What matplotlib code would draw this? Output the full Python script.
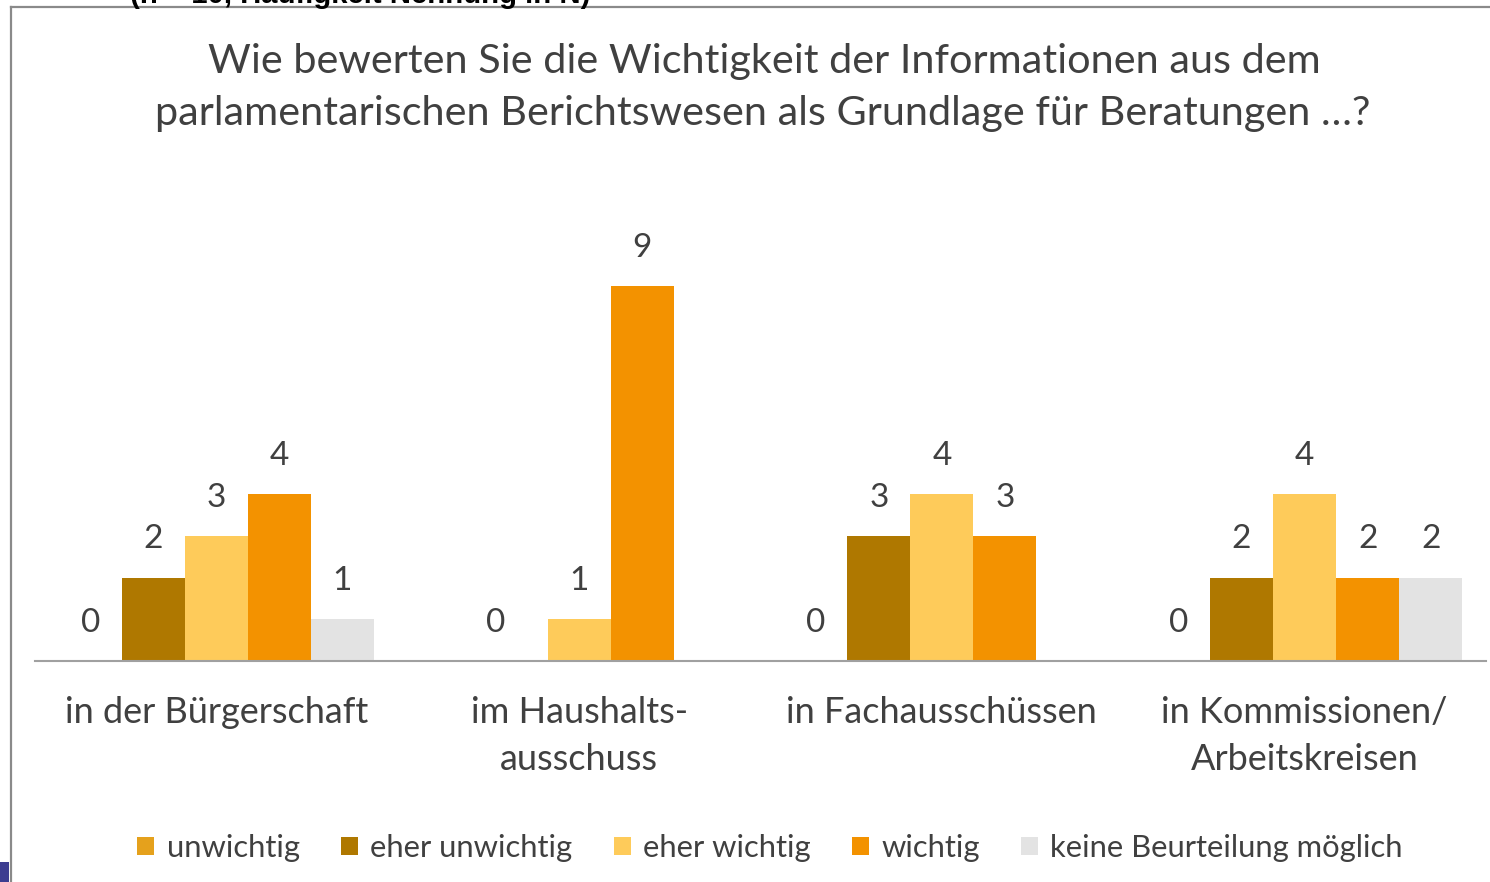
import matplotlib
matplotlib.use("Agg")
import matplotlib.pyplot as plt
import numpy as np
from matplotlib.patches import Patch, Rectangle
from matplotlib.lines import Line2D

# ---- data ----
categories = ["in der Bürgerschaft", "im Haushalts-\nausschuss",
              "in Fachausschüssen", "in Kommissionen/\nArbeitskreisen"]
series = ["unwichtig", "eher unwichtig", "eher wichtig", "wichtig",
          "keine Beurteilung möglich"]
unwichtig = [0, 0, 0, 0]
eher_unwichtig = [2, np.nan, 3, 2]
eher_wichtig = [3, 1, 4, 4]
wichtig = [4, 9, 3, 2]
keine = [1, np.nan, np.nan, 2]
values = [unwichtig, eher_unwichtig, eher_wichtig, wichtig, keine]
colors = ["#E5A11C", "#AF7800", "#FECB5A", "#F39200", "#E3E3E3"]

title_lines = ["Wie bewerten Sie die Wichtigkeit der Informationen aus dem",
               "parlamentarischen Berichtswesen als Grundlage für Beratungen …?"]
top_note = "(n = 10, Häufigkeit Nennung in N)"

FONT = ["Lato", "DejaVu Sans"]
TXT = "#404040"
W, H = 1490, 882

fig = plt.figure(figsize=(W / 100, H / 100), dpi=100)
fig.patch.set_facecolor("white")
renderer = fig.canvas.get_renderer()


def fit(t, width_px):
    w = t.get_window_extent(renderer).width
    t.set_fontsize(t.get_fontsize() * width_px / w)
    return t.get_fontsize()


# axes
ax = fig.add_axes([35 / W, 221 / H, 1451 / W, 417 / H])
ax.set_xlim(-0.5, 3.5)
ax.set_ylim(0, 10)
for s in ["top", "left", "right"]:
    ax.spines[s].set_visible(False)
ax.spines["bottom"].set_color("#a0a0a0")
ax.spines["bottom"].set_linewidth(1.5)
ax.set_yticks([])

bw = 63 / 362.7
x = np.arange(len(categories))
label_nudge = {(0, 1): 0.67}  # (series, group): shift in bar widths
for i, (vals, c) in enumerate(zip(values, colors)):
    pos = x + (i - 2) * bw
    v = np.array(vals, dtype=float)
    ax.bar(pos, np.nan_to_num(v), width=bw, color=c, edgecolor="none")
    for g, (p, val) in enumerate(zip(pos, v)):
        if np.isnan(val):
            continue
        px = p + label_nudge.get((i, g), 0) * bw
        ax.annotate(f"{int(val)}", (px, val), xytext=(0, 27.5),
                    textcoords="offset points", ha="center", va="center",
                    fontsize=24, color=TXT, family=FONT, annotation_clip=False)

# category labels
ax.set_xticks(x)
ax.set_xticklabels(categories, family=FONT, color=TXT, fontsize=22,
                   linespacing=1.35)
ax.tick_params(axis="x", length=0, pad=25)
fig.canvas.draw()
tl = ax.get_xticklabels()
fs = fit(tl[0], 303)
for t in tl:
    t.set_fontsize(fs)
fig.canvas.draw()
h1 = tl[0].get_window_extent(renderer).height
h2 = tl[1].get_window_extent(renderer).height
ls = 1.35 * 48 / (h2 - h1)
for t in tl:
    t.set_linespacing(ls)

# title
t1 = fig.text(764 / W, 1 - 62 / H, title_lines[0], ha="center", va="center",
              family=FONT, color=TXT, fontsize=26)
t2 = fig.text(763 / W, 1 - 114 / H, title_lines[1], ha="center", va="center",
              family=FONT, color=TXT, fontsize=26)
fit(t1, 1108)
t2.set_fontsize(t1.get_fontsize())

# cropped note at very top
tn = fig.text(130 / W, 1 - 3 / H, top_note, ha="left", va="baseline",
              family=["Liberation Sans", "DejaVu Sans"], weight="bold",
              color="black", fontsize=20)
fit(tn, 460)

# legend
handles = [Patch(facecolor=c, edgecolor="none") for c in colors]


def make_legend(size, cs):
    return fig.legend(handles, series, loc="center",
                      bbox_to_anchor=(770 / W, 1 - 848 / H), ncol=5,
                      frameon=False, handlelength=0.55, handleheight=0.55,
                      handletextpad=0.4, columnspacing=cs,
                      prop={"family": FONT, "size": size}, labelcolor=TXT)


leg = make_legend(20, 2.0)
fig.canvas.draw()
lfs = 20 * 354 / leg.get_texts()[-1].get_window_extent(renderer).width
leg.remove()
leg = make_legend(lfs, 2.0)
fig.canvas.draw()
lw = leg.get_window_extent(renderer).width
cs = 2.0 + (1290 - lw) / 4 / (lfs * 100 / 72)
leg.remove()
leg = make_legend(lfs, cs)

# frame lines
fig.add_artist(Line2D([11 / W, 11 / W], [0, 1 - 7 / H], transform=fig.transFigure,
                      color="#8a8a8a", lw=1.6))
fig.add_artist(Line2D([11 / W, 1], [1 - 7 / H, 1 - 7 / H], transform=fig.transFigure,
                      color="#8a8a8a", lw=1.6))
fig.add_artist(Rectangle((0, 0), 9 / W, 20 / H, transform=fig.transFigure,
                         facecolor="#3c3c90", edgecolor="none"))

fig.savefig("out.png", dpi=100)
